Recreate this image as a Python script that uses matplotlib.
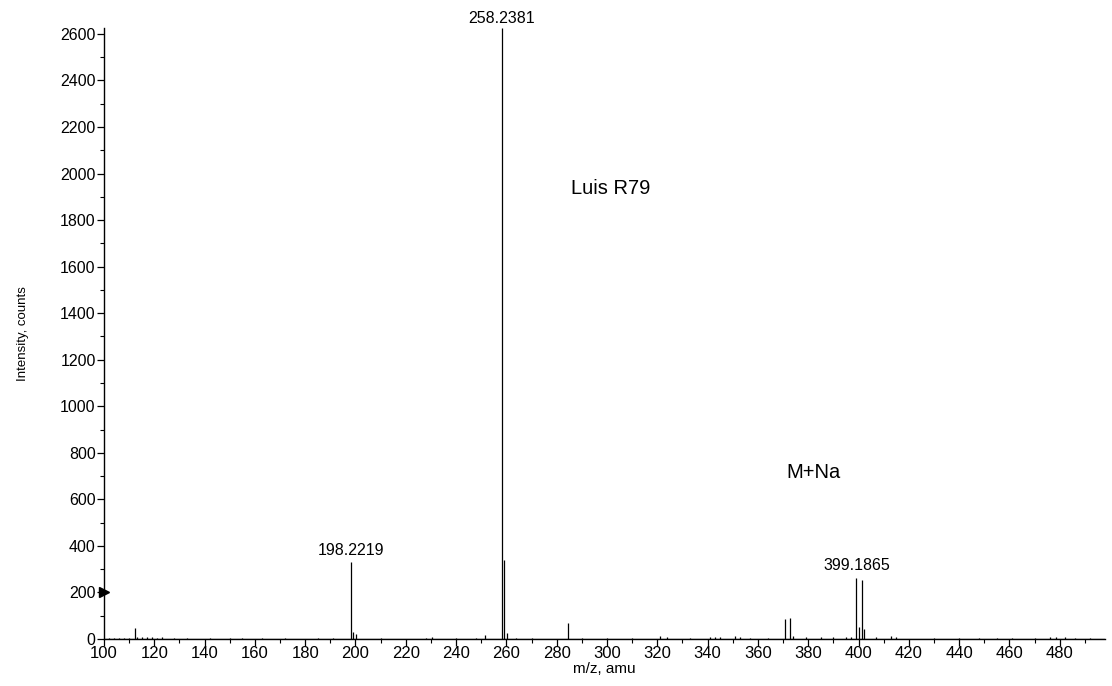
import matplotlib
matplotlib.use("Agg")
import matplotlib.pyplot as plt
from matplotlib.ticker import MultipleLocator

plt.rcParams['font.family'] = ['Liberation Sans', 'DejaVu Sans']

# Peak list (m/z, intensity in counts)
mz = [102.0, 104.0, 106.0, 108.0, 110.0, 112.2, 113.0, 115.0, 117.0, 119.0, 121.0, 123.0,
      128.0, 133.0, 142.0, 150.0, 155.0, 163.0, 172.0, 185.0, 191.0,
      198.2219, 199.2, 200.2, 210.0, 228.0, 230.5, 240.0, 248.0, 251.4,
      258.2381, 259.24, 260.2, 264.0, 270.0, 284.3, 290.0, 300.0, 310.0,
      321.0, 324.0, 333.0, 341.0, 343.0, 345.0, 351.0, 353.0, 357.0, 364.0,
      370.7, 372.7, 374.0, 379.0, 385.0, 390.0, 395.0, 397.0,
      399.1865, 400.2, 401.19, 402.2, 407.0, 410.0, 413.0, 415.0, 430.0,
      440.0, 448.0, 455.0, 461.0, 470.0, 476.0, 478.5, 482.0, 486.0, 492.0]
intensity = [6, 5, 4, 5, 4, 47, 8, 10, 7, 8, 4, 10,
             3, 4, 3, 5, 4, 4, 3, 5, 4,
             330, 30, 22, 4, 6, 9, 4, 6, 18,
             2625, 340, 25, 6, 4, 68, 4, 5, 4,
             12, 8, 5, 7, 10, 8, 12, 8, 6, 5,
             85, 90, 15, 8, 10, 7, 10, 8,
             262, 50, 255, 45, 8, -12, 12, 9, 6,
             5, 4, 6, 5, 6, 8, 10, 8, 6, 5]

labels = ["258.2381", "198.2219", "399.1865"]
label_mz = [258.2381, 198.2219, 399.1865]
label_y = [2635, 350, 285]

x_ticks = list(range(100, 481, 20))
y_ticks = list(range(0, 2601, 200))

fig = plt.figure(figsize=(11.12, 6.86), dpi=100)
ax = fig.add_axes([0.0935, 0.0685, 0.9002, 0.8905])

ax.vlines(mz, 0, intensity, colors='black', linewidth=0.9)
ax.axhline(0, color='black', linewidth=0.9)

ax.set_xlim(100, 498)
ax.set_ylim(0, 2625)

for lab, xm, ym in zip(labels, label_mz, label_y):
    ax.text(xm, ym, lab, ha='center', va='bottom', fontsize=11.5, clip_on=False)

ax.text(0.467, 0.738, "Luis R79", transform=ax.transAxes, fontsize=14.5,
        ha='left', va='center')
ax.text(0.682, 0.273, "M+Na", transform=ax.transAxes, fontsize=14.5,
        ha='left', va='center')

# small marker on y axis
ax.plot([100], [200], marker='>', color='black', markersize=7,
        clip_on=False, transform=ax.transData)

for s in ['top', 'right']:
    ax.spines[s].set_visible(False)
for s in ['left', 'bottom']:
    ax.spines[s].set_linewidth(1.0)

ax.set_xticks(x_ticks)
ax.set_yticks(y_ticks)
ax.xaxis.set_minor_locator(MultipleLocator(10))
ax.yaxis.set_minor_locator(MultipleLocator(100))
ax.tick_params(axis='both', which='major', length=5, width=0.9, pad=1)
ax.tick_params(axis='x', which='major', labelsize=12, pad=0)
ax.tick_params(axis='y', which='major', labelsize=11.5)
ax.tick_params(axis='both', which='minor', length=3, width=0.8)

ax.set_xlabel("m/z, amu", fontsize=11, labelpad=1)
ax.set_ylabel("Intensity, counts", fontsize=9.5, labelpad=22)

fig.savefig("out.png", dpi=100)
